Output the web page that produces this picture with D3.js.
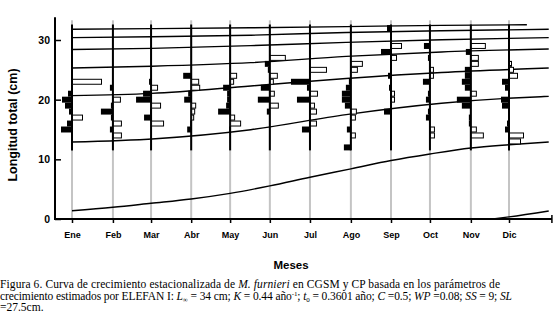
<!DOCTYPE html>
<html>
<head>
<meta charset="utf-8">
<script src="https://cdn.jsdelivr.net/npm/d3@7"></script>
<style>
  body { margin: 0; background: #fff; }
  svg { display: block; }
</style>
</head>
<body>
<div id="chart"></div>
<script>
// Sampling months and where they sit on the time axis (in months from Ene)
const months = ["Ene", "Feb", "Mar", "Abr", "May", "Jun", "Jul", "Ago", "Sep", "Oct", "Nov", "Dic"];
const monthPos = [0, 1.03, 1.99, 3.0, 3.98, 4.98, 5.99, 7.02, 8.03, 9.01, 10.04, 11];

// Length classes (cm), 1 cm wide
const lengthClasses = [12, 13, 14, 15, 16, 17, 18, 19, 20, 21, 22, 23, 24, 25, 26, 27, 28, 29, 30, 31, 32];

// Restructured frequencies per month (positive = black peak, negative = white trough)
const freqEne = [0, 0, 0, 11, 5, -10, 3, 7, 10, 4, 0, -29, 0, 0, 0, 0, 0, 0, 0, 0, 0];
const freqFeb = [0, 0, -8, 3, -8, 2, 12, 2, -7, 0, 3, 0, 0, 0, 0, 0, 0, 0, 0, 0, 0];
const freqMar = [0, 0, 0, 0, -12, 7, 1, -9, 15, 8, -6, 2, 0, 0, 0, 0, 0, 0, 0, 0, 0];
const freqAbr = [0, 0, 0, 4, 1, -2, -3, -4, 7, 3, -8, -7, 8, 0, 0, 0, 0, 0, 0, 0, 0];
const freqMay = [0, 0, 0, 1, -10, -4, 12, 4, 3, 3, 7, -3, -6, 0, 0, 0, 0, 0, 0, 0, 0];
const freqJun = [0, 0, 0, 0, 0, 0, 3, -8, 12, -4, 9, -3, -7, 2, 5, -15, 0, 0, 0, 0, 0];
const freqJul = [0, 0, 0, 8, -6, 0, -6, -4, 13, -7, 3, 19, 0, -16, 0, 0, 0, 0, 0, 0, 0];
const freqAgo = [7, 0, -4, 4, 0, -4, -5, 6, 9, 9, 5, 2, 0, -6, -11, 0, 0, 0, 0, 0, 0];
const freqSep = [0, 0, 0, 0, 0, 0, 7, 0, -3, -3, 2, 0, 3, 0, 0, -5, 10, -10, 0, 0, 4];
const freqOct = [0, 0, -4, -4, 0, 4, 2, 0, 4, 2, 0, 7, -3, -3, 0, 2, 0, 6, 0, 0, 0];
const freqNov = [0, 0, -12, -5, 2, 2, 0, 9, 14, -5, 6, 9, 6, 6, -7, -7, 5, -14, 0, 0, 0];
const freqDic = [0, -11, -14, 4, 2, 0, 0, 7, 8, 0, 4, 7, -8, -4, -2, 0, 0, 0, 0, 0, 0];
const monthFreqs = [freqEne, freqFeb, freqMar, freqAbr, freqMay, freqJun,
                    freqJul, freqAgo, freqSep, freqOct, freqNov, freqDic];

// Growth curves, one per cohort: [month, length cm]
const cohortNew = [[10.56, 0], [11, 0.35], [12, 1.35]];
const cohort1 = [[0, 1.39], [1.03, 1.97], [1.99, 2.64], [3, 3.36], [3.98, 4.3], [4.98, 5.55],
                 [5.99, 7.0], [7.02, 8.4], [8.03, 9.8], [9.01, 10.9], [10.04, 11.9], [11, 12.45], [12, 12.9]];
const cohort2 = [[0, 12.9], [2.1, 13.45], [4.5, 14.96], [6.9, 17.5], [9.3, 19.4], [11.8, 20.5], [12, 20.55]];
const cohort3 = [[0, 20.67], [2, 21.05], [4.5, 22.3], [6.9, 23.55], [9.3, 24.55], [12, 25.3]];
const cohort4 = [[0, 25.3], [2, 25.6], [4.5, 26.2], [6.9, 27.25], [9.3, 28.0], [12, 28.5]];
const cohort5 = [[0, 28.4], [2, 28.6], [4.5, 29.05], [6.9, 29.6], [9.3, 30.05], [12, 30.4]];
const cohort6 = [[0, 30.4], [2, 30.55], [4.5, 30.8], [6.9, 31.25], [9.3, 31.55], [12, 31.8]];
const cohort7 = [[0, 31.8], [2, 31.9], [4.5, 32.05], [6.9, 32.25], [9.3, 32.45], [11.45, 32.55]];
const cohorts = [cohortNew, cohort1, cohort2, cohort3, cohort4, cohort5, cohort6, cohort7];

const yTicks = [0, 10, 20, 30];

const width = 554, height = 329;
const sans = "'Liberation Sans', Arial, sans-serif";
const serif = "'Liberation Serif', 'Times New Roman', serif";

const svg = d3.select('#chart')
    .append('svg')
    .attr('width', width)
    .attr('height', height)
    .style('background', '#fff');

// Scales
const x = d3.scaleLinear().domain([0, 11]).range([72, 509]);
const y = d3.scaleLinear().domain([0, 30]).range([219, 40]);
const barW = d3.scaleLinear().domain([0, 30]).range([0, 30]);

const xMin = -0.43, xMax = 12.08;

// Gray sample lines from 0 to top
svg.append('g')
    .selectAll('line')
    .data(monthPos)
    .join('line')
    .attr('x1', d => x(d)).attr('x2', d => x(d))
    .attr('y1', y(0)).attr('y2', y(33.3))
    .attr('stroke', '#c4c4c4')
    .attr('stroke-width', 2);

// Growth curves
const line = d3.line()
    .x(d => x(d[0]))
    .y(d => y(d[1]))
    .curve(d3.curveMonotoneX);

svg.append('g')
    .selectAll('path')
    .data(cohorts)
    .join('path')
    .attr('d', line)
    .attr('fill', 'none')
    .attr('stroke', '#000')
    .attr('stroke-width', 1.4);

// Black histogram axes (length range 11.5 - 32.5 cm)
svg.append('g')
    .selectAll('line')
    .data(monthPos)
    .join('line')
    .attr('x1', d => x(d)).attr('x2', d => x(d))
    .attr('y1', y(11.5)).attr('y2', y(32.6))
    .attr('stroke', '#000')
    .attr('stroke-width', 2);

// Histogram bars
const bars = svg.append('g');
monthFreqs.forEach((freqs, i) => {
    const cx = x(monthPos[i]);
    freqs.forEach((v, j) => {
        if (v === 0) return;
        const c = lengthClasses[j];
        const top = y(c + 0.5), bot = y(c - 0.5);
        if (v > 0) {
            bars.append('rect')
                .attr('x', cx - barW(v))
                .attr('y', top)
                .attr('width', barW(v))
                .attr('height', bot - top)
                .attr('fill', '#000');
        } else {
            bars.append('rect')
                .attr('x', cx + 0.5)
                .attr('y', top + 0.5)
                .attr('width', barW(-v))
                .attr('height', bot - top - 1)
                .attr('fill', '#fff')
                .attr('stroke', '#000')
                .attr('stroke-width', 1);
        }
    });
});

// Y axis
const yAxis = d3.axisLeft(y)
    .tickValues(yTicks)
    .tickSizeInner(-6)
    .tickSizeOuter(0)
    .tickPadding(5);

const yG = svg.append('g')
    .attr('transform', 'translate(55,0)')
    .call(yAxis);
yG.select('.domain').remove();
yG.selectAll('.tick line').attr('stroke', '#000').attr('stroke-width', 1.5);
yG.selectAll('.tick text')
    .attr('font-family', sans)
    .attr('font-weight', 'bold')
    .attr('font-size', 10.5)
    .attr('fill', '#000');
svg.append('line')
    .attr('x1', 55).attr('x2', 55)
    .attr('y1', y(0) + 1).attr('y2', y(33.8))
    .attr('stroke', '#000').attr('stroke-width', 2);

// X axis
svg.append('line')
    .attr('x1', x(xMin)).attr('x2', x(xMax))
    .attr('y1', y(0)).attr('y2', y(0))
    .attr('stroke', '#000').attr('stroke-width', 2);

const xAxis = d3.axisBottom(x)
    .tickValues(monthPos)
    .tickFormat((d, i) => months[i])
    .tickSizeInner(4)
    .tickSizeOuter(0)
    .tickPadding(9);

const xG = svg.append('g')
    .attr('transform', `translate(0,${y(0)})`)
    .call(xAxis);
xG.select('.domain').remove();
xG.selectAll('.tick line').attr('stroke', '#000').attr('stroke-width', 1.5);
xG.selectAll('.tick text')
    .attr('font-family', sans)
    .attr('font-weight', 'bold')
    .attr('font-size', 9)
    .attr('fill', '#000');

// end tick
svg.append('line')
    .attr('x1', x(xMax)).attr('x2', x(xMax))
    .attr('y1', y(0) - 4).attr('y2', y(0) + 4)
    .attr('stroke', '#000').attr('stroke-width', 1.5);

// Axis titles
svg.append('text')
    .attr('x', 291).attr('y', 269)
    .attr('text-anchor', 'middle')
    .attr('font-family', sans)
    .attr('font-weight', 'bold')
    .attr('font-size', 11.5)
    .text('Meses');

svg.append('text')
    .attr('transform', 'translate(17,125) rotate(-90)')
    .attr('text-anchor', 'middle')
    .attr('font-family', sans)
    .attr('font-weight', 'bold')
    .attr('font-size', 12.5)
    .text('Longitud total (cm)');

// Caption
const cap = svg.append('g')
    .attr('font-family', serif)
    .attr('font-size', 11.5)
    .attr('fill', '#000');

function addLine(yy, parts, len) {
    const t = cap.append('text').attr('x', 0).attr('y', yy);
    if (len) t.attr('textLength', len).attr('lengthAdjust', 'spacing');
    parts.forEach(p => {
        const s = t.append('tspan').text(p.t);
        if (p.i) s.attr('font-style', 'italic');
        if (p.sub) s.attr('font-size', 7).attr('dy', 2);
        if (p.sup) s.attr('font-size', 7).attr('dy', -4);
        if (p.back) s.attr('dy', p.back);
    });
}

addLine(288, [
    {t: 'Figura 6. Curva de crecimiento estacionalizada de '},
    {t: 'M. furnieri', i: true},
    {t: ' en CGSM y CP basada en los parámetros de'}
], 500);
addLine(300, [
    {t: 'crecimiento estimados por ELEFAN I: '},
    {t: 'L', i: true},
    {t: '∞', sub: true},
    {t: ' = 34 cm; ', back: -2},
    {t: 'K', i: true},
    {t: ' = 0.44 año'},
    {t: '-1', sup: true},
    {t: '; ', back: 4},
    {t: 't', i: true},
    {t: '0', sub: true},
    {t: ' = 0.3601 año; ', back: -2},
    {t: 'C', i: true},
    {t: ' =0.5; '},
    {t: 'WP', i: true},
    {t: ' =0.08; '},
    {t: 'SS', i: true},
    {t: ' = 9; '},
    {t: 'SL', i: true}
], 512);
addLine(311, [{t: '=27.5cm.'}]);
</script>
</body>
</html>
